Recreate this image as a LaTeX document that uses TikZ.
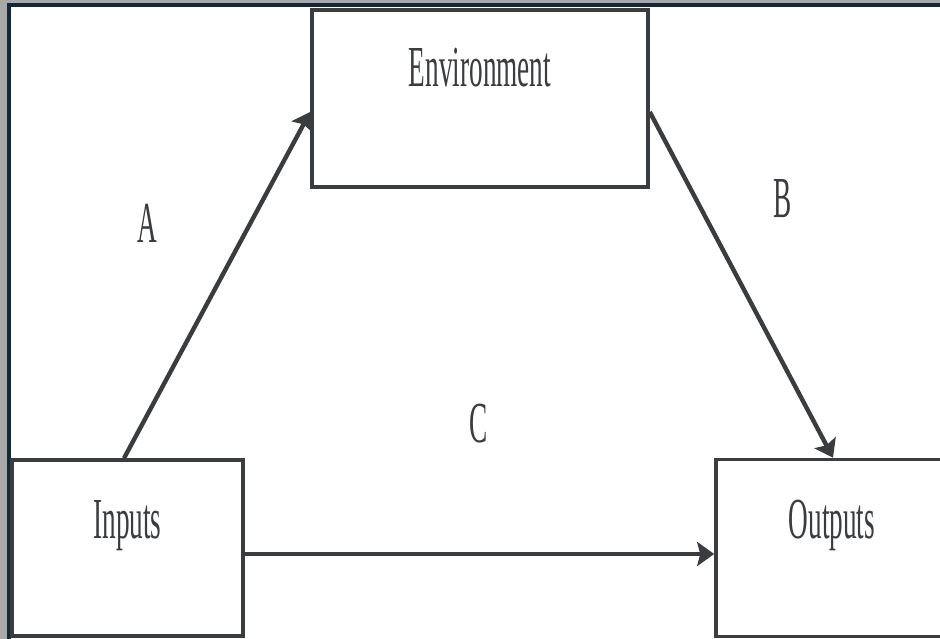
\documentclass[tikz,border=0pt]{standalone}
\usepackage{fontspec}
\setmainfont{Liberation Serif}[FakeStretch=0.47]
\usetikzlibrary{arrows.meta}
\definecolor{linegray}{HTML}{3A3D40}
\definecolor{framenavy}{HTML}{12293A}
\definecolor{outergray}{HTML}{A9A9A9}

\begin{document}
\begin{tikzpicture}[
    x=1pt, y=-1pt,
    box/.style={rectangle, draw=linegray, line width=3.6pt, inner sep=0pt},
    lbl/.style={text=linegray, anchor=base, inner sep=0pt, font=\fontsize{58}{60}\selectfont},
    arrow/.style={-{Stealth[length=17pt, width=24pt, inset=3pt]}, line width=4.4pt, draw=linegray}
]
\useasboundingbox (0,0) rectangle (940,639);

% outer frame
\fill[outergray] (0,0) rectangle (940,639);
\fill[white] (9,5) rectangle (940,639);
\draw[framenavy, line width=3.5pt] (9,640) -- (9,5) -- (941,5);

% boxes
\node[box, minimum width=336pt, minimum height=177pt] (env) at (480,98.5) {};
\node[box, minimum width=231pt, minimum height=176pt] (inbox) at (127.5,548) {};
\node[box, minimum width=234pt, minimum height=177pt] (outbox) at (833,548) {};

% box texts
\node[lbl] (envtext) at ([yshift=11.5pt]env.center) {Environment};
\node[lbl] (intext) at ([yshift=10pt]inbox.center) {Inputs};
\node[lbl] (outtext) at ([yshift=10pt, xshift=-1pt]outbox.center) {Outputs};

% path labels
\node[lbl] (labA) at (147,243) {A};
\node[lbl] (labB) at (783,218) {B};
\node[lbl] (labC) at (479,442) {C};

% arrows
\draw[arrow] ([xshift=-3.5pt]inbox.north) -- ([yshift=-13.5pt]env.west);
\draw[arrow] ([yshift=-13.5pt]env.east) -- (outbox.north);
\draw[arrow] ([yshift=-6pt]inbox.east) -- ([yshift=-6pt]outbox.west);

\end{tikzpicture}
\end{document}
